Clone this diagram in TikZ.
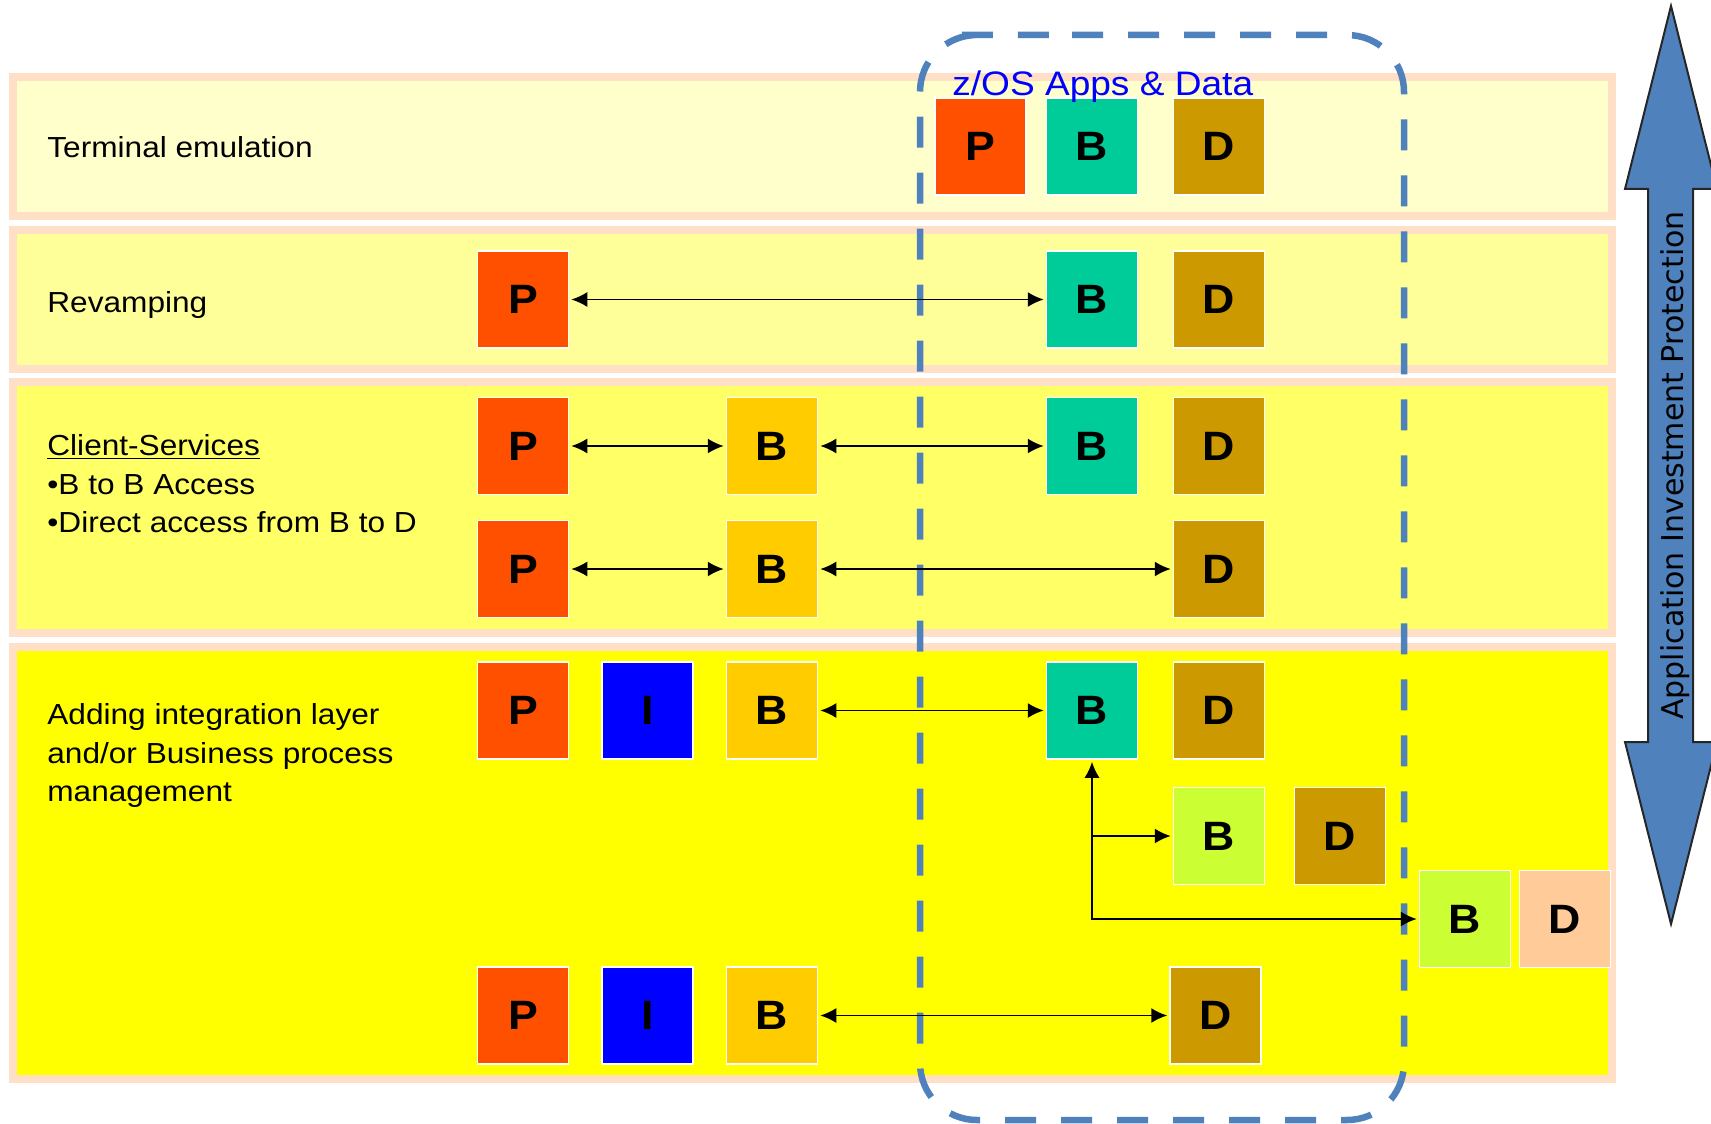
\documentclass[tikz,border=0pt]{standalone}
\usepackage{fontspec}
\setmainfont{Liberation Sans}[FakeStretch=1.09]
\newfontfamily\arrowfont{DejaVu Sans}
\usetikzlibrary{arrows.meta}
\definecolor{cP}{RGB}{255,80,0}
\definecolor{cT}{RGB}{0,204,153}
\definecolor{cD}{RGB}{204,153,0}
\definecolor{cO}{RGB}{255,204,0}
\definecolor{cI}{RGB}{0,0,255}
\definecolor{cL}{RGB}{204,255,51}
\definecolor{cPe}{RGB}{255,204,153}
\definecolor{bandA}{RGB}{255,255,204}
\definecolor{bandB}{RGB}{255,255,153}
\definecolor{bandC}{RGB}{255,255,102}
\definecolor{bandD}{RGB}{255,255,0}
\definecolor{bandedge}{RGB}{255,224,199}
\definecolor{zosblue}{RGB}{79,129,189}
\begin{document}
\begin{tikzpicture}[x=0.5pt,y=-0.5pt,
  band/.style={draw=bandedge, line width=4pt},
  bx/.style={draw=white, line width=0.75pt, minimum width=45.5pt, minimum height=48.5pt,
    inner sep=0pt, font=\bfseries\fontsize{20.5pt}{20.5pt}\selectfont},
  lbl/.style={anchor=base west, inner sep=0pt, font=\fontsize{14.5pt}{17pt}\selectfont},
  conn/.style={line width=0.9pt, {Latex[length=8pt,width=7.5pt]}-{Latex[length=8pt,width=7.5pt]},
    shorten <=1pt, shorten >=1pt},
  conn1/.style={line width=0.9pt, -{Latex[length=8pt,width=7.5pt]}, shorten >=1pt},
  zos/.style={draw=zosblue, line width=3.25pt, dash pattern=on 15.5pt off 12.5pt, rounded corners=28.5pt},
  bigarrow/.style={fill=zosblue, draw=black!85, line width=1pt, line join=miter}
]
\useasboundingbox (0,0) rectangle (1711,1123);
\clip (0,0) rectangle (1711,1123);

% bands
\draw[band, fill=bandA] (12.5,77) rectangle (1611.5,216);
\draw[band, fill=bandB] (12.5,230) rectangle (1611.5,369);
\draw[band, fill=bandC] (12.5,382) rectangle (1611.5,633);
\draw[band, fill=bandD] (12.5,647) rectangle (1611.5,1079);

% z/OS dashed frame
\draw[zos] (1015,35) -- (1404,35) -- (1404,1120) -- (920,1120) -- (920,35) -- cycle;

% labels
\node[lbl] (t1) at (47,158) {Terminal emulation};
\node[lbl] (t2) at (47,312) {Revamping};
\node[lbl] (t3a) at (47,455) {\underline{Client-Services}};
\node[lbl] (t3b) at (47,494) {•B to B Access};
\node[lbl] (t3c) at (47,532) {•Direct access from B to D};
\node[lbl] (t4a) at (47,724) {Adding integration layer};
\node[lbl] (t4b) at (47,763) {and/or Business process};
\node[lbl] (t4c) at (47,801) {management};

% row 1
\node[bx, fill=cP] (zP) at (980.5,146.5) {P};
\node[bx, fill=cT] (zB) at (1092,146.5) {B};
\node[bx, fill=cD] (zD) at (1219,146.5) {D};
% row 2
\node[bx, fill=cP] (rP) at (523,299.5) {P};
\node[bx, fill=cT] (rB) at (1092,299.5) {B};
\node[bx, fill=cD] (rD) at (1219,299.5) {D};
% row 3
\node[bx, fill=cP] (cP1) at (523,446) {P};
\node[bx, fill=cO] (cB1) at (772,446) {B};
\node[bx, fill=cT] (cT1) at (1092,446) {B};
\node[bx, fill=cD] (cD1) at (1219,446) {D};
\node[bx, fill=cP] (cP2) at (523,569) {P};
\node[bx, fill=cO] (cB2) at (772,569) {B};
\node[bx, fill=cD] (cD2) at (1219,569) {D};
% row 4
\node[bx, fill=cP] (aP) at (523,710.5) {P};
\node[bx, fill=cI] (aI) at (647.5,710.5) {I};
\node[bx, fill=cO] (aB) at (772,710.5) {B};
\node[bx, fill=cT] (aT) at (1092,710.5) {B};
\node[bx, fill=cD] (aD) at (1219,710.5) {D};
\node[bx, fill=cL] (aL1) at (1219,836) {B};
\node[bx, fill=cD] (aD1) at (1340,836) {D};
\node[bx, fill=cL] (aL2) at (1465,919) {B};
\node[bx, fill=cPe] (aPe) at (1565,919) {D};
\node[bx, fill=cP] (bP) at (523,1015.5) {P};
\node[bx, fill=cI] (bI) at (647.5,1015.5) {I};
\node[bx, fill=cO] (bB) at (772,1015.5) {B};
\node[bx, fill=cD] (bD) at (1215.5,1015.5) {D};

% connectors
\draw[conn] (rP.east) -- (rB.west);
\draw[conn] (cP1.east) -- (cB1.west);
\draw[conn] (cB1.east) -- (cT1.west);
\draw[conn] (cP2.east) -- (cB2.west);
\draw[conn] (cB2.east) -- (cD2.west);
\draw[conn] (aB.east) -- (aT.west);
\draw[conn] (bB.east) -- (bD.west);
\draw[conn] (aT.south) |- (aL2.west);
\coordinate (br) at (aT.south |- aL1.west);
\draw[conn1] (br) -- (aL1.west);

% z/OS title
\node[anchor=base west, inner sep=0pt, text=cI, font=\fontsize{17pt}{17pt}\selectfont] (zt) at (952,96) {z/OS Apps \& Data};

% big double arrow
\draw[bigarrow] (1671,6) -- (1717,189) -- (1693,189) -- (1693,742) -- (1717,742) -- (1671,924)
  -- (1625,742) -- (1648,742) -- (1648,189) -- (1625,189) -- cycle;
\node[rotate=90, anchor=base, inner sep=0pt, font=\arrowfont\fontsize{15pt}{15pt}\selectfont] (at) at (1683,465.5) {Application Investment Protection};
\end{tikzpicture}
\end{document}
